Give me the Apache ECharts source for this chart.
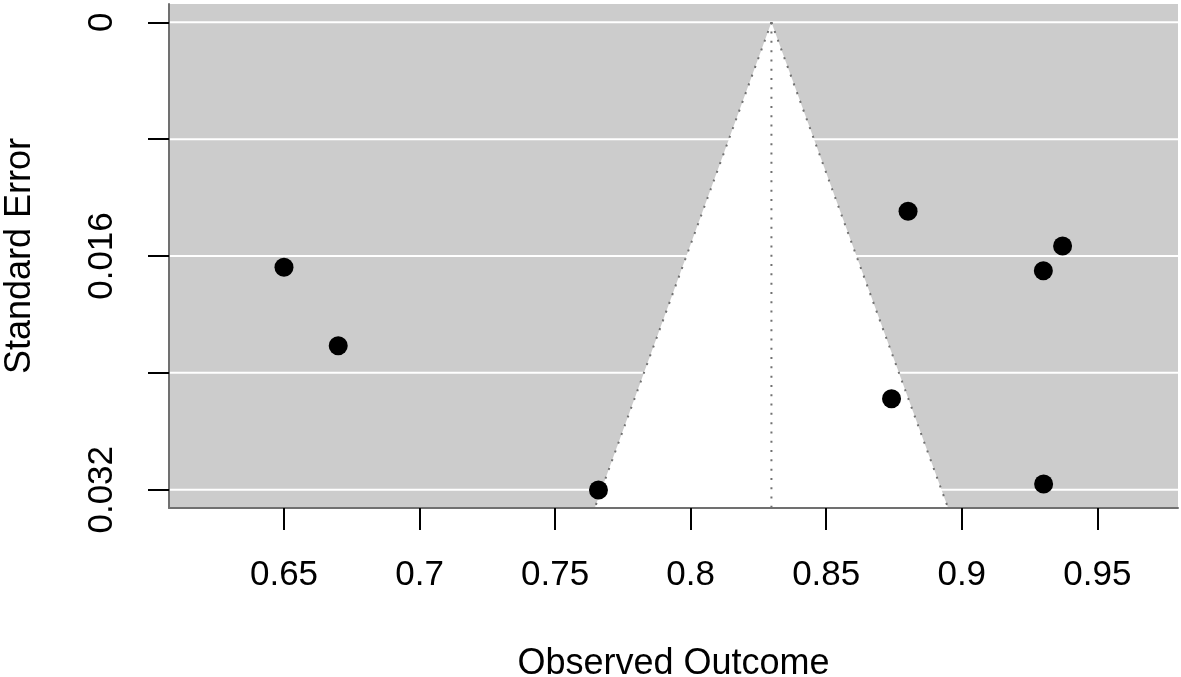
<!DOCTYPE html>
<html>
<head>
<meta charset="utf-8">
<script src="https://cdn.jsdelivr.net/npm/echarts@6/dist/echarts.min.js"></script>
<style>
html,body{margin:0;padding:0;background:#fff;}
#chart{width:1181px;height:677px;}
</style>
</head>
<body>
<div id="chart"></div>
<script>
// Observed outcomes and their standard errors
const outcomes   = [0.8802, 0.9372, 0.9301, 0.6500, 0.6700, 0.8741, 0.7660, 0.9302];
const stdErrors  = [0.01294, 0.01532, 0.01701, 0.01677, 0.02214, 0.02577, 0.03202, 0.03161];
// Pooled estimate (centre of funnel) and bottom of the SE axis
const estimate = 0.8298;
const seMax = 0.03325;
const seMin = -0.00125;
const zCrit = 1.96;
// Axis ticks
const xTicks = [0.65, 0.7, 0.75, 0.8, 0.85, 0.9, 0.95];
const yTicks = [0, 0.008, 0.016, 0.024, 0.032];
const yLabels = [0, 0.016, 0.032];
const xMin = 0.60758, xMax = 0.97977;

const font = '"Liberation Sans", Arial, Helvetica, sans-serif';
const points = outcomes.map((v, i) => [v, stdErrors[i]]);
const funnelLeft = [[estimate, 0], [estimate - zCrit * seMax, seMax]];
const funnelRight = [[estimate, 0], [estimate + zCrit * seMax, seMax]];
const centreLine = [[estimate, 0], [estimate, seMax]];

const chart = echarts.init(document.getElementById('chart'));
chart.setOption({
  animation: false,
  backgroundColor: '#ffffff',
  grid: {
    left: 169, right: 3, top: 4, bottom: 169,
    outerBoundsMode: 'none', containLabel: false,
    show: true, backgroundColor: '#cccccc', borderWidth: 0
  },
  xAxis: {
    type: 'value', min: xMin, max: xMax, z: 10,
    name: 'Observed Outcome', nameLocation: 'middle', nameGap: 138,
    nameTextStyle: { fontFamily: font, fontSize: 36, color: '#000' },
    axisLine: { show: true, onZero: false, lineStyle: { color: '#707070', width: 2 } },
    axisTick: { show: true, customValues: xTicks, length: 22, lineStyle: { color: '#000', width: 2 } },
    axisLabel: { customValues: xTicks, fontFamily: font, fontSize: 35, color: '#000', margin: 50 },
    splitLine: { show: false }
  },
  yAxis: {
    type: 'value', min: seMin, max: seMax, inverse: true, z: 10,
    name: 'Standard Error', nameLocation: 'middle', nameGap: 131,
    nameTextStyle: { fontFamily: font, fontSize: 36, color: '#000' },
    axisLine: { show: true, onZero: false, lineStyle: { color: '#707070', width: 2 } },
    axisTick: { show: true, customValues: yTicks, length: 21, lineStyle: { color: '#000', width: 2 } },
    axisLabel: { customValues: yLabels, rotate: 90, fontFamily: font, fontSize: 35, color: '#000', margin: 49 },
    splitLine: { show: false }
  },
  series: [
    {
      type: 'custom', z: 1, silent: true,
      data: [[estimate, seMax]],
      renderItem: function (params, api) {
        const est = api.value(0), se = api.value(1);
        const apex = api.coord([est, 0]);
        const bl = api.coord([est - zCrit * se, se]);
        const br = api.coord([est + zCrit * se, se]);
        return { type: 'polygon', shape: { points: [apex, bl, br] }, style: { fill: '#ffffff' } };
      }
    },
    {
      type: 'custom', z: 2, silent: true,
      data: yTicks.map(v => [v]),
      encode: { y: 0 },
      renderItem: function (params, api) {
        const v = api.value(0);
        const p1 = api.coord([xMin, v]);
        const p2 = api.coord([xMax, v]);
        return { type: 'line', shape: { x1: p1[0], y1: p1[1], x2: p2[0], y2: p2[1] },
                 style: { stroke: '#ffffff', lineWidth: 2 } };
      }
    },
    {
      type: 'line', z: 3, silent: true, data: funnelLeft, symbol: 'none',
      lineStyle: { color: '#707070', width: 2, type: [2, 7.3] }
    },
    {
      type: 'line', z: 3, silent: true, data: funnelRight, symbol: 'none',
      lineStyle: { color: '#707070', width: 2, type: [2, 7.3] }
    },
    {
      type: 'line', z: 3, silent: true, data: centreLine, symbol: 'none',
      lineStyle: { color: '#707070', width: 2, type: [2, 7.3] }
    },
    {
      type: 'scatter', z: 5, data: points, symbol: 'circle', symbolSize: 19,
      itemStyle: { color: '#000000', opacity: 1 }
    }
  ]
});
</script>
</body>
</html>
